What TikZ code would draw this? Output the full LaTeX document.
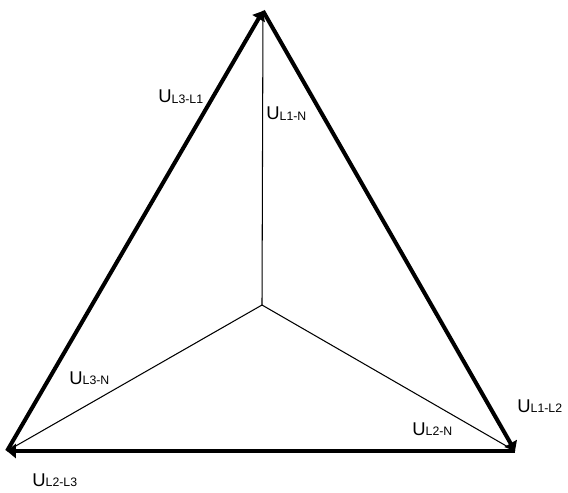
\documentclass[tikz,border=0pt]{standalone}
\usepackage{fontspec}
\setmainfont{Liberation Sans}
\usetikzlibrary{arrows.meta}
\newcommand{\volt}[1]{U\raisebox{-0.4pt}{\fontsize{7}{8}\selectfont #1}}
\begin{document}
\begin{tikzpicture}
  [x=0.02cm,y=-0.02cm,
   phase/.style={line width=0.6pt},
   linevolt/.style={line width=2.3pt,-{Triangle[length=5pt,width=8pt]}},
   every node/.style={font=\fontsize{10.5}{12}\selectfont,inner sep=0pt,anchor=base west}]
  \useasboundingbox (0,0) rectangle (568,493);
  % corners and star point
  \coordinate (L1) at (263,11);
  \coordinate (L2) at (515,451);
  \coordinate (L3) at (7,451);
  \coordinate (N) at (262,305);
  % phase voltages
  \draw[phase] (N) -- (L1);
  \draw[phase] (N) -- (L2);
  \draw[phase] (N) -- (L3);
  % line voltages
  \draw[linevolt] (L3) -- (L1);
  \draw[linevolt] (L1) -- (L2);
  \draw[linevolt] (L2) -- (L3);
  % labels
  \node (u31) at (158,103) {\volt{L3-L1}};
  \node (u1n) at (266,120) {\volt{L1-N}};
  \node (u3n) at (69,384) {\volt{L3-N}};
  \node (u2n) at (412,435) {\volt{L2-N}};
  \node (u12) at (517,412) {\volt{L1-L2}};
  \node (u23) at (32,486) {\volt{L2-L3}};
\end{tikzpicture}
\end{document}
